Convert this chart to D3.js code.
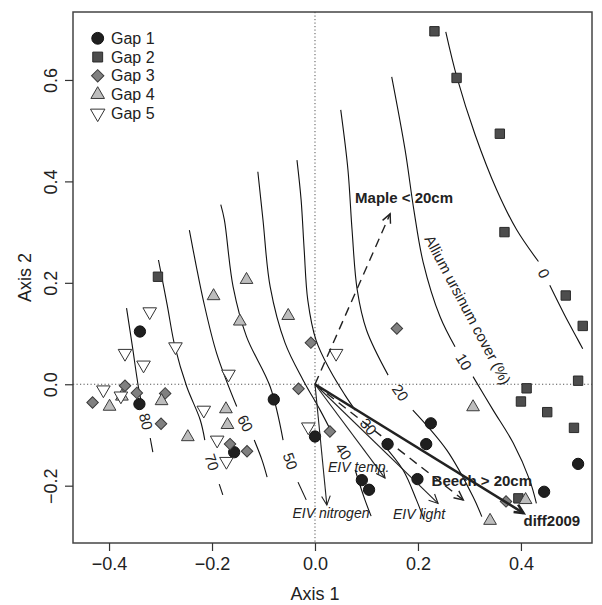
<!DOCTYPE html>
<html>
<head>
<meta charset="utf-8">
<script src="https://cdnjs.cloudflare.com/ajax/libs/d3/7.8.5/d3.min.js"></script>
<style>
  body { margin: 0; background: #fff; }
  text { font-family: "Liberation Sans", Arial, sans-serif; fill: #222; }
</style>
</head>
<body>
<div id="chart"></div>
<script>
// site scores per gap (Axis 1, Axis 2)
const gap1 = [[-0.340,0.104],[-0.341,-0.039],[-0.157,-0.134],[-0.080,-0.030],[0.000,-0.103],
  [0.091,-0.189],[0.105,-0.208],[0.141,-0.118],[0.199,-0.187],[0.216,-0.118],[0.225,-0.077],
  [0.445,-0.212],[0.511,-0.157]];
const gap2 = [[0.232,0.696],[0.275,0.604],[0.359,0.494],[0.368,0.300],[0.487,0.175],[0.520,0.115],
  [0.411,-0.008],[0.400,-0.034],[0.451,-0.055],[0.511,0.007],[0.503,-0.086],[0.395,-0.225],
  [-0.305,0.212]];
const gap3 = [[-0.369,-0.003],[-0.346,-0.017],[-0.432,-0.036],[-0.291,-0.018],[-0.299,-0.078],
  [-0.165,-0.118],[-0.132,-0.132],[-0.008,0.082],[-0.032,-0.009],[0.029,-0.093],[0.159,0.110],
  [0.371,-0.231]];
const gap4 = [[-0.133,0.206],[-0.197,0.174],[-0.146,0.124],[-0.052,0.135],[-0.399,-0.044],
  [-0.375,-0.024],[-0.298,-0.033],[-0.247,-0.104],[-0.173,-0.049],[-0.170,-0.080],[0.307,-0.045],
  [0.340,-0.269],[0.409,-0.228]];
const gap5 = [[-0.321,0.143],[-0.369,0.061],[-0.333,0.038],[-0.271,0.074],[-0.411,-0.011],
  [-0.377,-0.023],[-0.168,0.020],[-0.216,-0.051],[-0.190,-0.110],[-0.172,-0.152],[0.041,0.061],
  [-0.013,-0.084]];

const gapNames = ["Gap 1", "Gap 2", "Gap 3", "Gap 4", "Gap 5"];

// Allium ursinum cover surface, contour lines (a = before label, b = after label)
const contourLevels = ["0", "10", "20", "30", "40", "50", "60", "70", "80"];
const contourA = [
  [[0.254,0.695],[0.276,0.604],[0.311,0.492],[0.353,0.383],[0.392,0.304],[0.434,0.242]],
  [[0.149,0.606],[0.175,0.462],[0.192,0.344],[0.210,0.241],[0.243,0.133],[0.272,0.074]],
  [[0.050,0.541],[0.064,0.423],[0.072,0.304],[0.082,0.186],[0.100,0.107],[0.142,0.018]],
  [[-0.035,0.442],[-0.027,0.364],[-0.021,0.265],[-0.014,0.166],[0.002,0.087],[0.029,0.028],[0.058,-0.021],[0.078,-0.051]],
  [[-0.111,0.419],[-0.101,0.324],[-0.087,0.192],[-0.058,0.081],[-0.023,0.008],[0.010,-0.051],[0.033,-0.096]],
  [[-0.183,0.354],[-0.176,0.324],[-0.159,0.192],[-0.133,0.094],[-0.087,-0.005],[-0.062,-0.110]],
  [[-0.244,0.304],[-0.231,0.235],[-0.217,0.166],[-0.191,0.061],[-0.152,-0.044]],
  [[-0.304,0.245],[-0.287,0.156],[-0.272,0.074],[-0.249,-0.005],[-0.223,-0.070],[-0.214,-0.110]],
  [[-0.366,0.150],[-0.355,0.077],[-0.343,-0.005],[-0.336,-0.041]]
];
const contourB = [
  [[0.456,0.195],[0.485,0.136],[0.511,0.087],[0.520,0.070]],
  [[0.307,0.015],[0.346,-0.051],[0.385,-0.116],[0.417,-0.189],[0.430,-0.235]],
  [[0.190,-0.051],[0.256,-0.130],[0.307,-0.222],[0.324,-0.261]],
  [[0.130,-0.116],[0.171,-0.169],[0.197,-0.228],[0.212,-0.267]],
  [[0.078,-0.169],[0.097,-0.228],[0.109,-0.260]],
  [[-0.033,-0.193],[-0.017,-0.228]],
  [[-0.118,-0.110],[-0.103,-0.149],[-0.093,-0.183]],
  [[-0.186,-0.197],[-0.179,-0.218]],
  [[-0.320,-0.106],[-0.315,-0.134]]
];

// fitted vectors
const vecNames = ["Maple < 20cm", "Beech > 20cm", "diff2009", "EIV nitrogen", "EIV temp.", "EIV light"];
const vecEnd = [[0.146,0.336],[0.288,-0.228],[0.405,-0.254],[0.023,-0.238],[0.136,-0.185],[0.239,-0.235]];
const vecLabelAt = [[0.173,0.369],[0.324,-0.189],[0.460,-0.269],[0.031,-0.254],[0.085,-0.163],[0.202,-0.256]];
const vecType = ["dashed", "dashed", "thick", "thin", "thin", "thin"];
const vecFont = ["bold", "bold", "bold", "italic", "italic", "italic"];

const xTicks = [-0.4, -0.2, 0, 0.2, 0.4];
const yTicks = [-0.2, 0, 0.2, 0.4, 0.6];

const W = 602, H = 605;
const svg = d3.select("#chart").append("svg").attr("width", W).attr("height", H);

const x = d3.scaleLinear().domain([-0.47, 0.538]).range([73, 592]);
const y = d3.scaleLinear().domain([-0.313, 0.734]).range([543, 12]);

// zero lines
svg.append("line").attr("x1", x(0)).attr("x2", x(0)).attr("y1", y.range()[1]).attr("y2", y.range()[0])
  .attr("stroke", "#555").attr("stroke-dasharray", "1.2,2.3");
svg.append("line").attr("x1", x.range()[0]).attr("x2", x.range()[1]).attr("y1", y(0)).attr("y2", y(0))
  .attr("stroke", "#555").attr("stroke-dasharray", "1.2,2.3");

// contours
const line = d3.line().x(d => x(d[0])).y(d => y(d[1])).curve(d3.curveCatmullRom);
const cg = svg.append("g");
contourLevels.forEach((lev, i) => {
  [contourA[i], contourB[i]].forEach(seg => {
    cg.append("path").attr("d", line(seg)).attr("fill", "none")
      .attr("stroke", "#111").attr("stroke-width", 1.1);
  });
  const p0 = contourA[i][contourA[i].length - 1], p1 = contourB[i][0];
  const x0 = x(p0[0]), y0 = y(p0[1]), x1 = x(p1[0]), y1 = y(p1[1]);
  const ang = Math.atan2(y1 - y0, x1 - x0) * 180 / Math.PI;
  cg.append("text")
    .attr("transform", `translate(${(x0 + x1) / 2},${(y0 + y1) / 2}) rotate(${ang})`)
    .attr("text-anchor", "middle").attr("dominant-baseline", "central")
    .style("font-size", "15px").text(lev);
});

cg.append("text")
  .attr("transform", `translate(${x(0.297)},${y(0.147)}) rotate(62)`)
  .attr("text-anchor", "middle").attr("dominant-baseline", "central")
  .style("font-size", "15px").text("Allium ursinum cover (%)");

// points
const sym = [
  { data: gap1, type: d3.symbolCircle, size: 100, fill: "#1f1f1f", stroke: "#111", rot: 0 },
  { data: gap2, type: d3.symbolSquare, size: 88, fill: "#4d4d4d", stroke: "#2a2a2a", rot: 0 },
  { data: gap3, type: d3.symbolSquare, size: 66, fill: "#808080", stroke: "#3a3a3a", rot: 45 },
  { data: gap4, type: d3.symbolTriangle, size: 70, fill: "#bdbdbd", stroke: "#3a3a3a", rot: 0 },
  { data: gap5, type: d3.symbolTriangle, size: 80, fill: "#fff", stroke: "#333", rot: 180 }
];
const pg = svg.append("g");
sym.forEach(s => {
  pg.selectAll(null).data(s.data).join("path")
    .attr("d", d3.symbol().type(s.type).size(s.size))
    .attr("transform", d => `translate(${x(d[0])},${y(d[1])}) rotate(${s.rot})`)
    .attr("fill", s.fill).attr("stroke", s.stroke).attr("stroke-width", 1);
});

// vectors
const vg = svg.append("g");
vecEnd.forEach((e, i) => {
  const sx = x(0), sy = y(0), ex = x(e[0]), ey = y(e[1]);
  const w = vecType[i] === "thick" ? 2.6 : (vecType[i] === "dashed" ? 1.4 : 1.1);
  vg.append("line").attr("x1", sx).attr("y1", sy).attr("x2", ex).attr("y2", ey)
    .attr("stroke", "#222").attr("stroke-width", w)
    .attr("stroke-dasharray", vecType[i] === "dashed" ? "9,6" : null);
  const a = Math.atan2(ey - sy, ex - sx), L = 10, spread = Math.PI / 7;
  const head = [[ex - L * Math.cos(a - spread), ey - L * Math.sin(a - spread)], [ex, ey],
    [ex - L * Math.cos(a + spread), ey - L * Math.sin(a + spread)]];
  vg.append("path").attr("d", d3.line()(head)).attr("fill", "none")
    .attr("stroke", "#222").attr("stroke-width", w);
  vg.append("text").attr("x", x(vecLabelAt[i][0])).attr("y", y(vecLabelAt[i][1]))
    .attr("text-anchor", "middle").attr("dominant-baseline", "central")
    .style("font-size", vecFont[i] === "bold" ? "15px" : "14px")
    .style("font-weight", vecFont[i] === "bold" ? "bold" : "normal")
    .style("font-style", vecFont[i] === "italic" ? "italic" : "normal")
    .text(vecNames[i]);
});

// frame and axes
svg.append("rect").attr("x", x.range()[0]).attr("y", y.range()[1])
  .attr("width", x.range()[1] - x.range()[0]).attr("height", y.range()[0] - y.range()[1])
  .attr("fill", "none").attr("stroke", "#444").attr("stroke-width", 1.5);

const fmt = d3.format(".1f");
const xAxis = svg.append("g").attr("transform", `translate(0,${y.range()[0]})`)
  .call(d3.axisBottom(x).tickValues(xTicks).tickFormat(fmt).tickSize(8).tickPadding(6).tickSizeOuter(0));
const yAxis = svg.append("g").attr("transform", `translate(${x.range()[0]},0)`)
  .call(d3.axisLeft(y).tickValues(yTicks).tickFormat(fmt).tickSize(8).tickSizeOuter(0));
[xAxis, yAxis].forEach(g => {
  g.select(".domain").remove();
  g.selectAll(".tick line").attr("stroke", "#333").attr("stroke-width", 1.2);
  g.selectAll("text").style("font-size", "18px").attr("fill", "#222")
    .style("font-family", "'Liberation Sans', Arial, sans-serif");
});
yAxis.selectAll("text").attr("x", null).attr("dy", null)
  .attr("text-anchor", "middle").attr("transform", "translate(-16.5,0) rotate(-90)");

svg.append("text").attr("x", x(0)).attr("y", 600).attr("text-anchor", "middle")
  .style("font-size", "18px").text("Axis 1");
svg.append("text").attr("transform", `translate(31,${(y.range()[0] + y.range()[1]) / 2}) rotate(-90)`)
  .attr("text-anchor", "middle").style("font-size", "18px").text("Axis 2");

// legend
const lg = svg.append("g");
sym.forEach((s, i) => {
  const cy = 38.3 + i * 18.75;
  lg.append("path").attr("d", d3.symbol().type(s.type).size(s.size + 10))
    .attr("transform", `translate(97.7,${cy}) rotate(${s.rot})`)
    .attr("fill", s.fill).attr("stroke", s.stroke);
  lg.append("text").attr("x", 111).attr("y", cy).attr("dominant-baseline", "central")
    .style("font-size", "16px").text(gapNames[i]);
});
</script>
</body>
</html>
